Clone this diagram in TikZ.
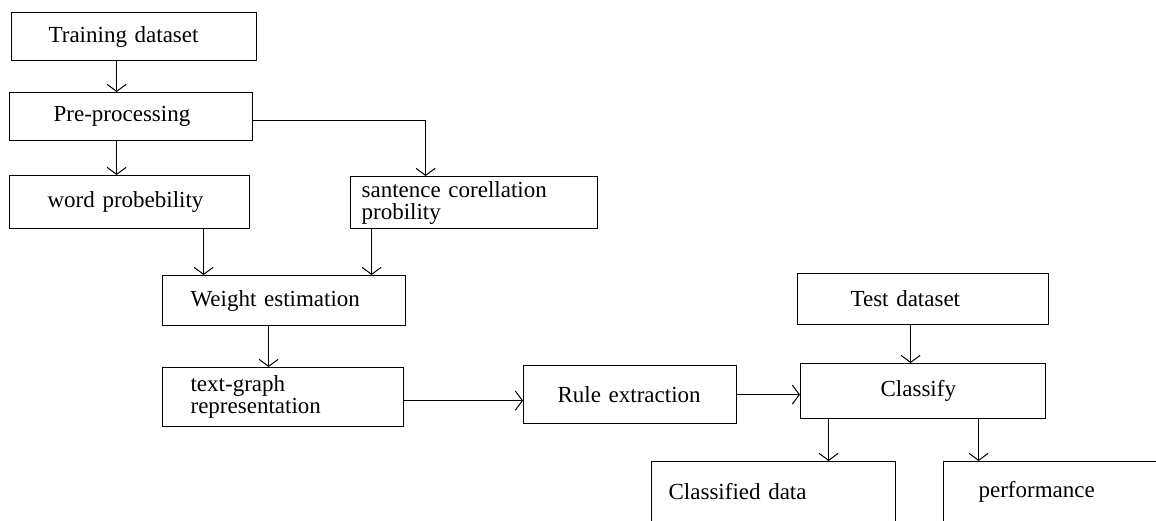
\documentclass[tikz,border=0pt]{standalone}
\usepackage{fontspec}
\setmainfont{Liberation Serif}
\usetikzlibrary{arrows.meta}

\tikzset{
blk/.style={draw,line width=1.2pt,anchor=north west,inner ysep=0pt,align=left,
  font=\fontsize{23}{22}\selectfont},
arr/.style={draw,line width=1.1pt,-{Straight Barb[length=7pt,width=19pt,line width=1pt]}}}

\begin{document}
\begin{tikzpicture}
  [x=1pt,y=-1pt]
  \clip (0,0) rectangle (1156,520);
  % left column
  \node[blk,minimum width=245pt,minimum height=48pt,inner xsep=37pt,text width=171pt] (train) at (11,12) {Training dataset};
  \node[blk,minimum width=243pt,minimum height=48pt,inner xsep=44pt,text width=155pt] (pre) at (9,92) {Pre-processing};
  \node[blk,minimum width=240pt,minimum height=53pt,inner xsep=38pt,text width=164pt] (wp) at (9,175) {word probebility};
  \node[blk,minimum width=247pt,minimum height=52pt,inner xsep=11pt,text width=225pt] (sc) at (350,176) {santence corellation\\probility};
  \node[blk,minimum width=243pt,minimum height=50pt,inner xsep=28pt,text width=187pt] (we) at (162,275) {Weight estimation};
  \node[blk,minimum width=241pt,minimum height=59pt,inner xsep=28pt,text width=185pt] (tg) at (162,367) {text-graph\\representation};
  % right part
  \node[blk,minimum width=213pt,minimum height=58pt,inner xsep=34pt,text width=145pt] (re) at (523,365) {Rule extraction};
  \node[blk,minimum width=251pt,minimum height=51pt,inner xsep=53pt,text width=145pt] (test) at (797,273) {Test dataset};
  \node[blk,minimum width=245pt,minimum height=55pt,inner xsep=80pt,text width=85pt] (cls) at (800,363) {Classify};
  \node[blk,minimum width=244pt,minimum height=60pt,inner xsep=17pt,text width=210pt] (cd) at (651,461) {Classified data};
  \node[blk,minimum width=240pt,minimum height=60pt,inner xsep=35pt,text width=170pt] (perf) at (943,461) {performance};

  % connectors
  \coordinate (trainout) at ([xshift=-17.5pt]train.south);
  \draw[arr] (trainout) -- (trainout |- pre.north);
  \coordinate (preout) at ([xshift=-14.5pt]pre.south);
  \draw[arr] (preout) -- (preout |- wp.north);
  \coordinate (prer) at ([yshift=-4pt]pre.east);
  \coordinate (scin) at ([xshift=-48.5pt]sc.north);
  \draw[arr] (prer) -| (scin);
  \coordinate (wpout) at ([xshift=74pt]wp.south);
  \draw[arr] (wpout) -- (wpout |- we.north);
  \coordinate (scout) at ([xshift=-102.5pt]sc.south);
  \draw[arr] (scout) -- (scout |- we.north);
  \coordinate (weout) at ([xshift=-15.5pt]we.south);
  \draw[arr] (weout) -- (weout |- tg.north);
  \coordinate (tgout) at ([yshift=-3.5pt]tg.east);
  \draw[arr] (tgout) -- (tgout -| re.west);
  \draw[arr] (re.east) -- (re.east -| cls.west);
  \coordinate (testout) at ([xshift=-12.5pt]test.south);
  \draw[arr] (testout) -- (testout |- cls.north);
  \coordinate (clsa) at ([xshift=-94.5pt]cls.south);
  \draw[arr] (clsa) -- (clsa |- cd.north);
  \coordinate (clsb) at ([xshift=55.5pt]cls.south);
  \draw[arr] (clsb) -- (clsb |- perf.north);
\end{tikzpicture}
\end{document}
